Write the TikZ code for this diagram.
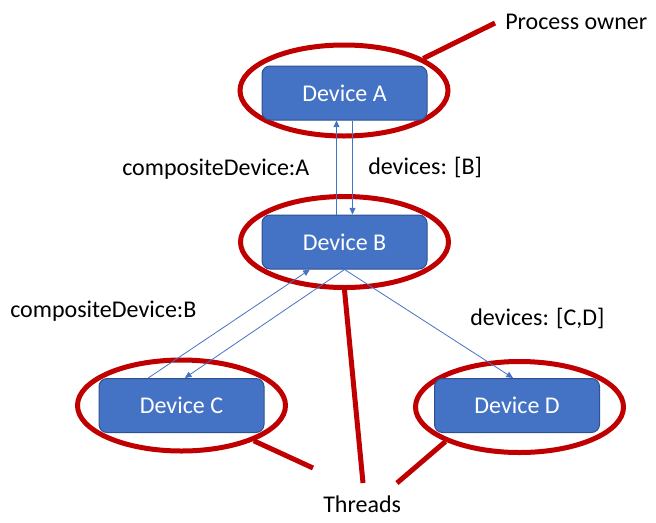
\documentclass[tikz,border=0pt]{standalone}
\usepackage{fontspec}
\setmainfont{Carlito}
\usetikzlibrary{shapes.geometric,arrows.meta,positioning}
\definecolor{devblue}{HTML}{4472C4}
\definecolor{devedge}{HTML}{2F528F}
\definecolor{ringred}{HTML}{C00000}
\begin{document}
\begin{tikzpicture}[x=0.75pt,y=-0.75pt,
  every node/.style={font=\fontsize{18}{21.6}\selectfont},
  device/.style={rectangle,rounded corners=6pt,fill=devblue,draw=devedge,line width=0.75pt,text=white,minimum width=123.75pt,minimum height=40.5pt},
  ring/.style={ellipse,draw=ringred,line width=3.75pt,minimum width=156pt,minimum height=68.25pt},
  link/.style={devblue,line width=0.6pt,-{Triangle[length=5pt,width=4.5pt]}},
  thread/.style={ringred,line width=3.75pt},
  lbl/.style={anchor=base west,inner sep=0pt}]
\useasboundingbox (0,0) rectangle (656,522);
\node[ring] (ringA) at (344,90.5) {};
\node[ring] (ringB) at (344.5,242) {};
\node[ring] (ringC) at (181.5,405.5) {};
\node[ring] (ringD) at (519.5,407) {};
\node[device] (devA) at (344.5,93) {Device A};
\node[device] (devB) at (344.5,242) {Device B};
\node[device] (devC) at (181.5,405.5) {Device C};
\node[device] (devD) at (517,405.5) {Device D};
\draw[link] ([xshift=-6pt]devB.north) -- ([xshift=-6pt]devA.south);
\draw[link] ([xshift=6pt]devA.south) -- ([xshift=6pt]devB.north);
\draw[link] ([xshift=-25pt]devC.north) -- ([xshift=-26pt]devB.south);
\draw[link] (devB.south) -- ([xshift=2.5pt]devC.north);
\draw[link] (devB.south) -- ([xshift=-3pt]devD.north);
\coordinate (ownerEnd) at (495,23);
\coordinate (thrC) at (313,468);
\coordinate (thrB) at (363,483);
\coordinate (thrD) at (397,483);
\draw[thread] (ringA.22) -- (ownerEnd);
\draw[thread] (ringC.-26) -- (thrC);
\draw[thread] (ringB.south) -- (thrB);
\draw[thread] (ringD.-155) -- (thrD);
\node[lbl] (owner) at (505,29) {Process owner};
\node[lbl] (threads) at (323,512) {Threads};
\node[lbl] (compA) at (122,175) {compositeDevice:A};
\node[lbl] (devsB) at (368,174) {devices: [B]};
\node[lbl] (compB) at (10,317) {compositeDevice:B};
\node[lbl] (devsCD) at (470,325) {devices: [C,D]};
\end{tikzpicture}
\end{document}
